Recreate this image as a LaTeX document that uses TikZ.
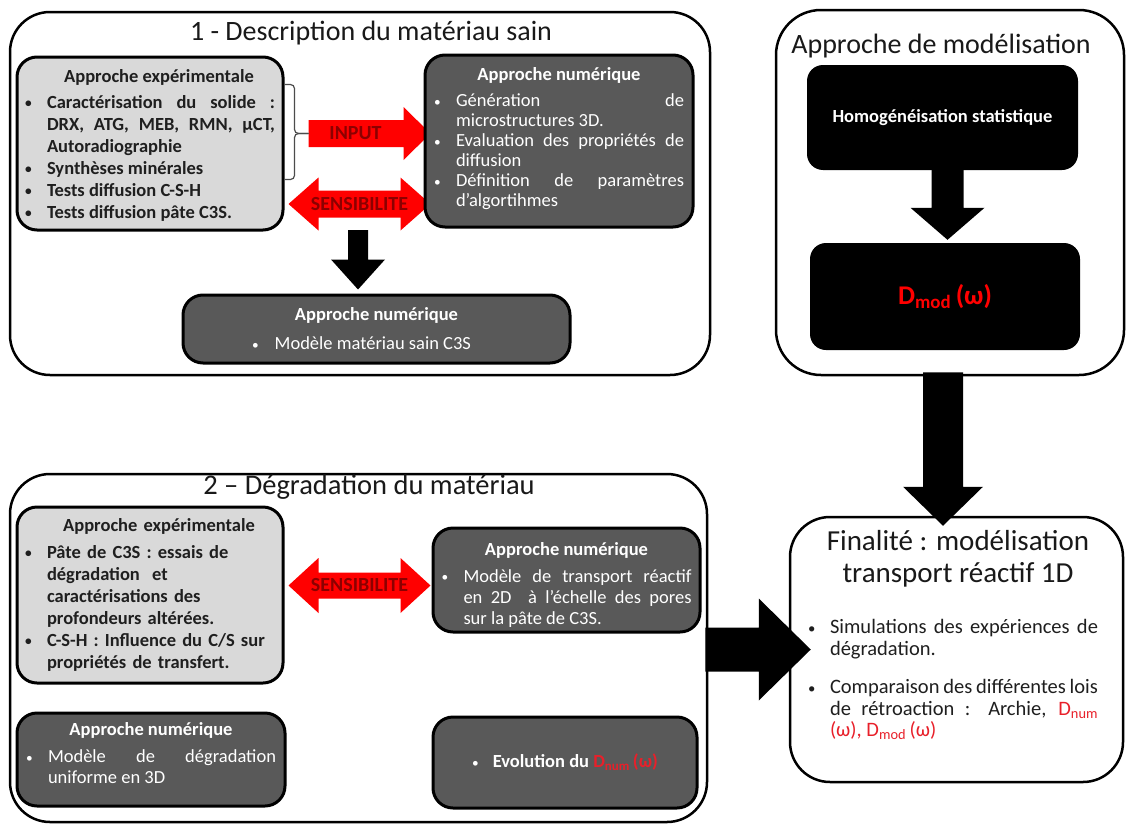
\documentclass[tikz,border=0pt]{standalone}
\usepackage{fontspec}
\setmainfont{Carlito}
\usetikzlibrary{calc}
\definecolor{lightg}{HTML}{D9D9D9}
\definecolor{darkg}{HTML}{595959}
\definecolor{dred}{HTML}{8C0000}
\definecolor{myred}{HTML}{FF0000}
\definecolor{txtred}{HTML}{E8202A}
\pgfdeclarelayer{back}\pgfdeclarelayer{mid}\pgfdeclarelayer{front}
\pgfsetlayers{back,mid,main,front}
\newcommand\bdot{\raisebox{0.6pt}{\scalebox{0.72}{\textbullet}}}
\newcommand\bul{\par\hangindent=22pt\hangafter=1\noindent\hbox to 22pt{\hspace{0pt}\bdot\hfil}\ignorespaces}
\newcommand\ctr[1]{{\centering #1\par}}
\newcommand\fsz[2]{\fontsize{#1}{#2}\selectfont}
% #1 start, #2 tip, #3 shaft half width, #4 head half width, #5 head length, #6 style
\newcommand\DownArrow[6]{\fill[#6] ($(#1)+(-#3,0)$) -- ($(#2)+(-#3,-#5)$) -- ($(#2)+(-#4,-#5)$) -- (#2) -- ($(#2)+(#4,-#5)$) -- ($(#2)+(#3,-#5)$) -- ($(#1)+(#3,0)$) -- cycle;}
\newcommand\RightArrow[6]{\fill[#6] ($(#1)+(0,-#3)$) -- ($(#2)+(-#5,-#3)$) -- ($(#2)+(-#5,-#4)$) -- (#2) -- ($(#2)+(-#5,#4)$) -- ($(#2)+(-#5,#3)$) -- ($(#1)+(0,#3)$) -- cycle;}
\newcommand\DoubleArrow[6]{\fill[#6] (#1) -- ($(#1)+(#5,-#4)$) -- ($(#1)+(#5,-#3)$) -- ($(#2)+(-#5,-#3)$) -- ($(#2)+(-#5,-#4)$) -- (#2) -- ($(#2)+(-#5,#4)$) -- ($(#2)+(-#5,#3)$) -- ($(#1)+(#5,#3)$) -- ($(#1)+(#5,#4)$) -- cycle;}
\tikzset{
  every node/.style={inner sep=0pt},
  bodytext/.style={align=justify, execute at begin node={\parindent=0pt\tolerance=10000\hyphenpenalty=10000\exhyphenpenalty=10000}},
  bigbox/.style={draw=black, line width=2.5pt, rounded corners=40pt, fill=white},
  innerbox/.style={bodytext, draw=black, line width=3pt, rounded corners=20pt},
  lightbox/.style={innerbox, fill=lightg, text=black!88, font=\bfseries\fsz{18.5}{22}},
  darkbox/.style={innerbox, fill=darkg, text=white, font=\fsz{18.5}{21}},
  blackbox/.style={fill=black, rounded corners=16pt, text=white, align=center},
  titletext/.style={font=\fsz{28}{31}, text=black!90},
  redlabel/.style={text=dred, font=\bfseries\fsz{20}{22}},
}
\begin{document}
\begin{tikzpicture}[x=1pt,y=-1pt]
\useasboundingbox (0,0) rectangle (1129,827);
\begin{pgfonlayer}{back}
\fill[white] (0,0) rectangle (1129,827);
\node[bigbox, minimum width=700pt, minimum height=363pt] (b1) at (360,193.5) {};
\node[bigbox, minimum width=348pt, minimum height=365pt, rounded corners=45pt] (bm) at (950,192.5) {};
\node[bigbox, minimum width=697pt, minimum height=348pt] (b2) at (358.5,648) {};
\node[bigbox, minimum width=333pt, minimum height=265pt] (fin) at (956.5,649.5) {};
\end{pgfonlayer}

% titles
\node[titletext] (t1) at (371,33) {1 - Description du matériau sain};
\node[titletext] (tm) at (941,46) {Approche de modélisation};
\node[titletext, font=\fsz{28.5}{31}] (t2) at (369,487) {2 – Dégradation du matériau};
\node[titletext, align=center, font=\fsz{29}{32}] (fint) at (958,559) {Finalité : modélisation\\transport réactif 1D};

% section 1
\node[lightbox, minimum width=266pt, minimum height=173pt, text width=250pt] (exp1) at (150,143.5) {%
\ctr{\hspace*{18pt}Approche expérimentale}\vspace{4pt}%
\bul Caractérisation du solide :\linebreak DRX, ATG, MEB, RMN, µCT,\linebreak Autoradiographie
\bul Synthèses minérales
\bul Tests diffusion C-S-H
\bul Tests diffusion pâte C3S.\par\kern-4pt};

\node[darkbox, minimum width=268pt, minimum height=172pt, text width=250pt, font=\fsz{18.5}{20}] (num1) at (559,141) {%
\ctr{\bfseries Approche numérique}\vspace{6pt}%
\bul Génération de\linebreak microstructures 3D.
\bul Evaluation des propriétés de\linebreak diffusion
\bul Définition de paramètres\linebreak d'algortihmes\par\kern4pt};

\node[darkbox, minimum width=387pt, minimum height=68pt, text width=380pt] (sain) at (376.5,329) {%
\ctr{\bfseries Approche numérique}\vspace{8pt}%
\ctr{\bdot\hspace{16pt}Modèle matériau sain C3S\hspace*{30pt}}};

% modelisation
\node[blackbox, minimum width=271pt, minimum height=105pt, font=\bfseries\fsz{18.5}{22}] (homog) at (942.5,117.5) {Homogénéisation statistique};
\node[blackbox, minimum width=270pt, minimum height=107pt] (dmod) at (945,296.5) {\raisebox{-8pt}{\textcolor{myred}{\bfseries\fsz{27}{30}D\textsubscript{mod}\,(ω)}}};

% section 2
\node[lightbox, minimum width=266pt, minimum height=176pt, text width=250pt, align=left] (exp2) at (150,595) {%
\ctr{\hspace*{18pt}Approche expérimentale}\vspace{5pt}%
\bul Pâte de C3S : essais de\newline dégradation\ \ et\newline caractérisations des\newline profondeurs altérées.
\bul C-S-H : Influence du C/S sur\newline propriétés de transfert.\par};

\node[darkbox, minimum width=267pt, minimum height=104pt, text width=250pt] (num2) at (566.5,580) {%
\ctr{\bfseries Approche numérique}\vspace{6pt}%
\bul Modèle de transport réactif\linebreak en 2D\ \ à l'échelle des pores\linebreak sur la pâte de C3S.\par\kern-10pt};

\node[darkbox, minimum width=268pt, minimum height=93pt, text width=250pt] (num3) at (151,759.5) {%
\ctr{\bfseries Approche numérique}\vspace{6pt}%
\bul Modèle de dégradation\linebreak uniforme en 3D\par\kern12pt};

\node[darkbox, minimum width=264pt, minimum height=91pt, text width=250pt] (num4) at (565,762.5) {%
\ctr{\bdot\hspace{14pt}\bfseries Evolution du \textcolor{txtred}{D\textsubscript{num}\,(ω)}}};

% finalite body
\node[bodytext, text width=290pt, font=\fsz{20.5}{21.5}, text=black!88] (finb) at (953,676) {%
\bul Simulations des expériences de\linebreak dégradation.\par\vspace{17pt}%
\bul Comparaison des différentes lois\linebreak de rétroaction : Archie, \textcolor{txtred}{D\textsubscript{num}}\linebreak \textcolor{txtred}{(ω), D\textsubscript{mod}\,(ω)}\par};

% brace
\coordinate (ins) at ($(exp1.east)+(24,-10)$);
\draw[line width=1.2pt, black!70, rounded corners=4pt] ($(exp1.north east)+(0,29)$) -- ++(10,0) |- (ins);
\draw[line width=1.2pt, black!70, rounded corners=4pt] ($(exp1.south east)+(0,-52)$) -- ++(10,0) |- (ins);

% red arrows
\coordinate (int) at ($(num1.west|-ins)+(7,0)$);
\coordinate (s1l) at ($(exp1.east)+(4,60.5)$);
\coordinate (s1r) at ($(num1.west|-s1l)+(7,0)$);
\coordinate (s2l) at ($(exp2.east)+(4,-9.5)$);
\coordinate (s2r) at ($(num2.west|-s2l)+(-1,0)$);
\begin{pgfonlayer}{mid}
\RightArrow{ins}{int}{13.5}{26.5}{27}{myred}
\DoubleArrow{s1l}{s1r}{13.5}{26.5}{30}{myred}
\DoubleArrow{s2l}{s2r}{13}{27.5}{30}{myred}
\end{pgfonlayer}
\node[redlabel] (inlbl) at ($(ins)!0.5!(int)+(-14,0)$) {INPUT};
\node[redlabel] (sens1) at ($(s1l)!0.5!(s1r)$) {SENSIBILITE};
\node[redlabel] (sens2) at ($(s2l)!0.5!(s2r)$) {SENSIBILITE};

% black arrows
\coordinate (a1s) at ($(exp1.south east)!0.5!(num1.south west)+(4,0)$);
\coordinate (a1t) at ($(a1s|-sain.north)+(0,-4)$);
\DownArrow{a1s}{a1t}{10}{27}{30}{black}
\coordinate (a2s) at ($(homog.south)+(5,0)$);
\coordinate (a2t) at ($(a2s|-dmod.north)+(0,-3)$);
\DownArrow{a2s}{a2t}{16}{37}{32}{black}
\begin{pgfonlayer}{front}
\coordinate (a3s) at ($(bm.south)+(-7,-4)$);
\coordinate (a3t) at ($(a3s|-fin.north)+(0,10)$);
\DownArrow{a3s}{a3t}{20}{40}{39}{black}
\coordinate (a4s) at ($(b2.east|-fin.west)+(-3,0)$);
\coordinate (a4t) at ($(fin.west)+(22,0)$);
\RightArrow{a4s}{a4t}{22}{51}{52}{black}
\end{pgfonlayer}
\end{tikzpicture}
\end{document}
